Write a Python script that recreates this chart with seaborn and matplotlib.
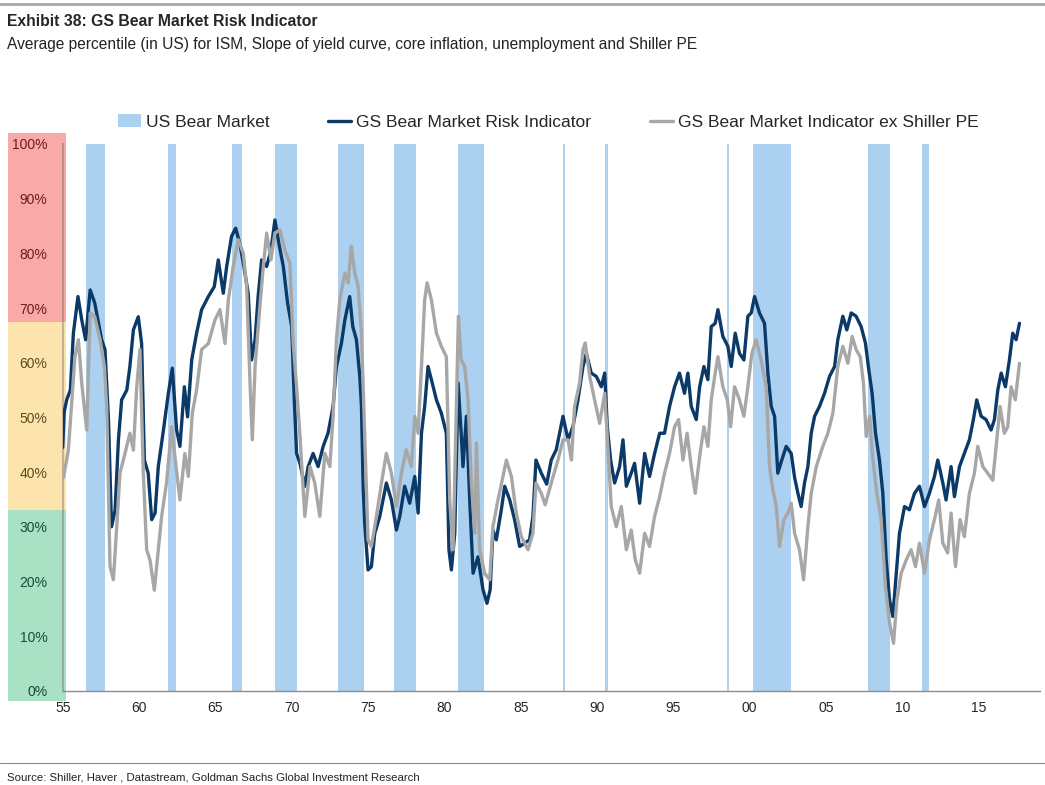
import numpy as np
import pandas as pd
import matplotlib
matplotlib.use('Agg')
import matplotlib.pyplot as plt
import matplotlib.transforms as mtransforms
from matplotlib.patches import Patch, Rectangle
from matplotlib.lines import Line2D
import seaborn as sns

# Data (percentile, %)
navy_year = [1955.00, 1955.10, 1955.26, 1955.50, 1955.70, 1956.00, 1956.25, 1956.50, 1956.80, 1957.10,
             1957.55, 1957.77, 1958.00, 1958.20, 1958.43, 1958.65, 1958.86, 1959.20, 1959.40, 1959.63,
             1959.95, 1960.17, 1960.35, 1960.60, 1960.83, 1961.05, 1961.26, 1961.60, 1961.92, 1962.18,
             1962.46, 1962.68, 1962.97, 1963.18, 1963.45, 1963.77, 1964.10, 1964.54, 1964.93, 1965.19,
             1965.52, 1965.74, 1966.06, 1966.33, 1966.60, 1966.83, 1967.15, 1967.37, 1967.60, 1967.80,
             1968.03, 1968.36, 1968.64, 1968.90, 1969.16, 1969.45, 1969.73, 1970.00, 1970.17, 1970.32,
             1970.54, 1970.86, 1971.08, 1971.40, 1971.73, 1972.06, 1972.38, 1972.71, 1972.93, 1973.26,
             1973.48, 1973.80, 1974.00, 1974.24, 1974.46, 1974.57, 1974.68, 1974.78, 1975.00, 1975.22,
             1975.44, 1975.77, 1976.20, 1976.53, 1976.86, 1977.08, 1977.40, 1977.73, 1978.06, 1978.28,
             1978.50, 1978.71, 1978.93, 1979.15, 1979.48, 1979.80, 1980.13, 1980.30, 1980.46, 1980.68,
             1980.90, 1981.10, 1981.22, 1981.44, 1981.66, 1981.88, 1982.20, 1982.53, 1982.79, 1983.00,
             1983.18, 1983.40, 1983.73, 1983.95, 1984.28, 1984.60, 1984.93, 1985.26, 1985.58, 1985.80,
             1986.00, 1986.35, 1986.70, 1987.00, 1987.33, 1987.55, 1987.77, 1988.10, 1988.42, 1988.75,
             1989.08, 1989.30, 1989.62, 1989.95, 1990.28, 1990.50, 1990.67, 1990.89, 1991.15, 1991.48,
             1991.70, 1991.92, 1992.24, 1992.46, 1992.79, 1993.12, 1993.44, 1993.77, 1994.10, 1994.42,
             1994.75, 1995.08, 1995.40, 1995.73, 1995.95, 1996.17, 1996.50, 1996.72, 1997.00, 1997.26,
             1997.48, 1997.74, 1997.92, 1998.24, 1998.57, 1998.79, 1999.05, 1999.33, 1999.62, 1999.88,
             2000.10, 2000.32, 2000.64, 2000.97, 2001.19, 2001.41, 2001.63, 2001.84, 2002.10, 2002.39,
             2002.72, 2002.94, 2003.16, 2003.37, 2003.59, 2003.81, 2004.03, 2004.25, 2004.57, 2004.90,
             2005.23, 2005.56, 2005.77, 2006.10, 2006.36, 2006.65, 2006.97, 2007.30, 2007.58, 2007.80,
             2008.02, 2008.24, 2008.50, 2008.72, 2008.94, 2009.16, 2009.37, 2009.55, 2009.81, 2010.14,
             2010.46, 2010.79, 2011.12, 2011.45, 2011.77, 2012.10, 2012.32, 2012.65, 2012.86, 2013.19,
             2013.41, 2013.74, 2014.06, 2014.39, 2014.65, 2014.87, 2015.16, 2015.48, 2015.81, 2016.03,
             2016.25, 2016.47, 2016.75, 2017.01, 2017.23, 2017.45, 2017.67]
navy_pct = [44.5, 51.0, 53.2, 55.0, 65.4, 72.1, 67.8, 64.2, 73.3, 70.9,
            64.2, 62.4, 49.5, 30.0, 33.0, 45.9, 53.2, 55.0, 59.3, 66.0,
            68.4, 63.5, 42.2, 39.8, 31.3, 32.5, 41.0, 47.7, 54.4, 59.0,
            47.7, 44.7, 55.6, 50.1, 60.5, 65.4, 69.7, 72.1, 73.9, 78.8,
            72.7, 77.6, 83.1, 84.6, 81.8, 78.2, 72.7, 60.5, 64.2, 72.1,
            78.8, 77.6, 80.6, 86.1, 81.8, 77.6, 70.9, 66.6, 53.2, 43.4,
            41.6, 37.4, 41.0, 43.4, 41.0, 44.7, 47.1, 52.0, 59.3, 63.6,
            67.8, 72.1, 66.6, 64.2, 57.5, 52.0, 37.4, 30.7, 22.1, 22.7,
            28.8, 31.9, 38.0, 34.9, 29.4, 31.9, 37.4, 34.3, 39.2, 32.5,
            47.1, 52.0, 59.3, 56.9, 53.2, 50.8, 47.1, 25.8, 22.1, 28.8,
            56.3, 47.1, 41.0, 50.2, 34.9, 21.5, 24.5, 18.5, 16.0, 18.5,
            29.4, 27.6, 33.1, 37.4, 34.9, 31.3, 26.4, 27.0, 27.6, 31.9,
            42.2, 39.8, 37.8, 42.2, 44.1, 47.1, 50.2, 45.9, 48.3, 53.2,
            59.3, 61.7, 58.1, 57.5, 55.6, 58.1, 48.3, 42.2, 38.0, 41.0,
            45.9, 37.4, 39.8, 41.6, 34.3, 43.4, 39.2, 43.4, 47.1, 47.1,
            52.0, 55.6, 58.1, 54.4, 58.1, 52.0, 49.6, 55.6, 59.3, 56.9,
            66.6, 67.2, 69.7, 64.8, 63.0, 59.3, 65.4, 61.7, 60.5, 68.5,
            69.1, 72.1, 69.1, 67.2, 58.1, 52.0, 50.2, 39.8, 42.2, 44.7,
            43.4, 39.0, 36.1, 33.7, 38.0, 41.0, 47.1, 50.2, 52.0, 54.4,
            57.5, 59.3, 64.2, 68.5, 66.0, 69.1, 68.5, 66.6, 63.6, 58.7,
            54.4, 47.1, 42.2, 36.1, 23.9, 16.6, 13.6, 19.7, 28.8, 33.7,
            33.1, 36.1, 37.4, 33.7, 36.1, 39.2, 42.2, 38.0, 34.9, 41.0,
            35.5, 41.0, 43.4, 45.9, 49.6, 53.2, 50.2, 49.6, 47.7, 49.6,
            55.0, 58.1, 55.6, 60.5, 65.4, 64.2, 67.2]

gray_year = [1955.05, 1955.37, 1955.60, 1955.80, 1956.03, 1956.25, 1956.57, 1956.80, 1957.10, 1957.45,
             1957.73, 1957.88, 1958.10, 1958.32, 1958.54, 1958.75, 1959.08, 1959.40, 1959.63, 1959.85,
             1960.06, 1960.28, 1960.50, 1960.72, 1961.00, 1961.26, 1961.48, 1961.80, 1962.14, 1962.35,
             1962.68, 1963.00, 1963.23, 1963.49, 1963.77, 1964.10, 1964.54, 1964.97, 1965.30, 1965.63,
             1965.85, 1966.17, 1966.50, 1966.83, 1967.05, 1967.27, 1967.42, 1967.60, 1967.86, 1968.14,
             1968.36, 1968.64, 1968.90, 1969.23, 1969.55, 1969.88, 1970.10, 1970.32, 1970.53, 1970.86,
             1971.20, 1971.51, 1971.84, 1972.17, 1972.50, 1972.71, 1972.93, 1973.15, 1973.48, 1973.70,
             1973.90, 1974.13, 1974.35, 1974.57, 1974.78, 1975.00, 1975.22, 1975.55, 1975.88, 1976.20,
             1976.53, 1976.86, 1977.19, 1977.50, 1977.84, 1978.06, 1978.28, 1978.50, 1978.71, 1978.87,
             1979.15, 1979.48, 1979.80, 1980.13, 1980.35, 1980.57, 1980.79, 1980.92, 1981.10, 1981.33,
             1981.55, 1981.77, 1981.99, 1982.10, 1982.31, 1982.64, 1982.97, 1983.18, 1983.51, 1983.84,
             1984.06, 1984.39, 1984.71, 1985.04, 1985.48, 1985.80, 1986.00, 1986.35, 1986.60, 1987.00,
             1987.44, 1987.77, 1988.10, 1988.32, 1988.53, 1988.86, 1989.08, 1989.23, 1989.52, 1989.84,
             1990.17, 1990.50, 1990.72, 1990.93, 1991.26, 1991.59, 1991.92, 1992.24, 1992.50, 1992.79,
             1993.12, 1993.44, 1993.77, 1994.10, 1994.42, 1994.75, 1995.08, 1995.34, 1995.63, 1995.90,
             1996.17, 1996.43, 1996.72, 1997.00, 1997.26, 1997.48, 1997.74, 1997.92, 1998.24, 1998.53,
             1998.75, 1999.01, 1999.33, 1999.62, 1999.88, 2000.14, 2000.42, 2000.75, 2001.08, 2001.30,
             2001.52, 2001.74, 2001.95, 2002.24, 2002.50, 2002.72, 2002.94, 2003.26, 2003.53, 2003.81,
             2004.03, 2004.36, 2004.79, 2005.12, 2005.45, 2005.77, 2006.10, 2006.43, 2006.71, 2006.97,
             2007.24, 2007.45, 2007.63, 2007.85, 2008.07, 2008.33, 2008.61, 2008.89, 2009.16, 2009.42,
             2009.64, 2009.92, 2010.25, 2010.57, 2010.86, 2011.12, 2011.45, 2011.77, 2012.10, 2012.38,
             2012.65, 2012.97, 2013.19, 2013.48, 2013.78, 2014.06, 2014.39, 2014.72, 2014.94, 2015.27,
             2015.59, 2015.92, 2016.14, 2016.40, 2016.68, 2016.90, 2017.12, 2017.40, 2017.67]
gray_pct = [39.0, 44.0, 53.2, 61.1, 64.2, 56.2, 47.7, 69.1, 68.4, 64.2,
            59.3, 52.0, 22.7, 20.3, 30.0, 39.8, 43.4, 47.1, 44.0, 55.6,
            62.4, 39.8, 25.8, 23.9, 18.4, 25.8, 31.9, 38.0, 48.3, 42.8,
            34.9, 43.4, 39.2, 50.8, 55.0, 62.4, 63.5, 67.8, 69.7, 63.5,
            71.5, 77.6, 82.5, 80.0, 73.9, 56.2, 45.9, 59.3, 68.4, 77.6,
            83.7, 78.8, 83.7, 84.3, 80.6, 78.2, 63.5, 55.6, 47.1, 31.9,
            41.0, 38.0, 31.9, 43.4, 41.0, 50.2, 64.2, 71.5, 76.4, 74.6,
            81.3, 76.4, 74.0, 65.4, 47.1, 27.6, 26.4, 31.9, 38.0, 43.4,
            39.8, 33.7, 39.8, 44.1, 41.0, 50.2, 47.1, 59.3, 71.5, 74.6,
            71.5, 65.4, 63.0, 61.1, 34.9, 25.8, 53.2, 68.5, 60.5, 59.3,
            53.2, 38.0, 28.8, 45.3, 25.8, 21.5, 20.3, 30.0, 34.9, 39.2,
            42.2, 39.2, 32.5, 28.2, 25.8, 28.8, 38.0, 36.1, 34.0, 38.0,
            42.2, 45.9, 45.9, 42.2, 52.0, 56.3, 62.4, 63.6, 57.5, 53.2,
            48.9, 54.4, 44.1, 33.7, 30.0, 33.7, 25.8, 29.4, 24.0, 21.5,
            28.8, 26.4, 31.9, 35.5, 39.8, 43.4, 48.3, 49.6, 42.2, 47.1,
            41.0, 36.1, 42.8, 48.3, 44.7, 53.2, 58.1, 61.1, 55.6, 53.2,
            48.3, 55.6, 53.2, 50.2, 55.6, 61.7, 64.2, 60.5, 55.6, 41.0,
            36.7, 33.7, 26.4, 31.3, 32.5, 34.3, 28.8, 25.8, 20.3, 30.0,
            36.1, 41.0, 44.7, 47.1, 50.8, 59.3, 63.0, 59.9, 64.8, 62.4,
            61.1, 56.3, 46.5, 50.2, 42.2, 36.1, 31.3, 19.1, 12.4, 8.7,
            16.6, 21.5, 23.9, 25.8, 22.7, 27.0, 21.5, 27.6, 31.3, 34.9,
            27.0, 25.2, 32.5, 22.7, 31.3, 28.2, 36.1, 39.8, 44.7, 41.0,
            39.8, 38.5, 44.7, 52.0, 47.1, 48.3, 55.6, 53.2, 59.9]

bear_start = [1956.53, 1961.89, 1966.08, 1968.88, 1973.02, 1976.71, 1980.87, 1987.74, 1990.52,
              1998.52, 2000.20, 2007.78, 2011.29]
bear_end = [1957.77, 1962.43, 1966.74, 1970.36, 1974.72, 1978.13, 1982.57, 1987.87, 1990.74,
            1998.62, 2002.73, 2009.17, 2011.77]

NAVY = '#0b3a68'
GRAY = '#a7a7a7'
BEAR = '#acd0ef'

sns.set_style('white')
plt.rcParams['font.family'] = ['Liberation Sans', 'DejaVu Sans']

fig = plt.figure(figsize=(10.45, 7.85), dpi=100)
ax = fig.add_axes([0.060, 0.120, 0.935, 0.6966])

# bear market shading
for s, e in zip(bear_start, bear_end):
    ax.axvspan(s, e, color=BEAR, lw=0, zorder=0)

# risk zones to the left of the axis
trans = mtransforms.blended_transform_factory(ax.transAxes, ax.transData)
for lo, hi, col in [(67.5, 102, '#f8a9a8'), (33, 67.5, '#fde4ac'), (-1.8, 33, '#a8e1c4')]:
    ax.add_patch(Rectangle((-0.056, lo), 0.0593, hi - lo, transform=trans,
                           facecolor=col, edgecolor='none', clip_on=False, zorder=0))

navy = pd.DataFrame({'year': navy_year, 'pct': navy_pct})
gray = pd.DataFrame({'year': gray_year, 'pct': gray_pct})
sns.lineplot(data=navy, x='year', y='pct', ax=ax, color=NAVY, lw=2.4, zorder=3)
sns.lineplot(data=gray, x='year', y='pct', ax=ax, color=GRAY, lw=2.4, zorder=4)

ax.set_xlim(1955, 2019.0)
ax.set_ylim(0, 100)
ax.set_xlabel('')
ax.set_ylabel('')

xt = list(range(1955, 2016, 5))
ax.set_xticks(xt)
ax.set_xticklabels([f'{y % 100:02d}' for y in xt], fontsize=10)
yt = list(range(0, 101, 10))
ax.set_yticks(yt)
ax.set_yticklabels([f'{v}%' for v in yt], fontsize=10)
for v, lab in zip(yt, ax.get_yticklabels()):
    if v >= 70:
        lab.set_color('#6e1d1d')
    elif v >= 40:
        lab.set_color('#5a4a1e')
    else:
        lab.set_color('#1c4a32')

ax.tick_params(axis='x', direction='out', length=4, width=1, color='#8c8c8c', pad=3)
ax.tick_params(axis='y', length=0, pad=11)
for side in ['top', 'right']:
    ax.spines[side].set_visible(False)
ax.spines['bottom'].set_color('#8c8c8c')
ax.spines['bottom'].set_linewidth(1)
ax.spines['left'].set_color((0.35, 0.35, 0.35, 0.35))
ax.spines['left'].set_linewidth(1.5)

handles = [Patch(facecolor=BEAR, edgecolor='none'),
           Line2D([], [], color=NAVY, lw=2.4),
           Line2D([], [], color=GRAY, lw=2.4)]
labels = ['US Bear Market', 'GS Bear Market Risk Indicator', 'GS Bear Market Indicator ex Shiller PE']
fig.legend(handles, labels, loc='center left', bbox_to_anchor=(118 / 1045, 1 - 122 / 785),
           ncol=3, frameon=False, fontsize=12.5, handlelength=1.3, handletextpad=0.3,
           columnspacing=3.4, borderpad=0, borderaxespad=0)

# header / footer
narrow = ['Liberation Sans Narrow', 'Liberation Sans', 'DejaVu Sans']
fig.text(7 / 1045, 1 - 22 / 785, 'Exhibit 38: GS Bear Market Risk Indicator',
         family=narrow, fontsize=11.3, fontweight='bold', va='center', ha='left')
fig.text(7 / 1045, 1 - 44 / 785,
         'Average percentile (in US) for ISM, Slope of yield curve, core inflation, unemployment and Shiller PE',
         family=narrow, fontsize=11.2, va='center', ha='left', color='#222222')
fig.text(7 / 1045, 1 - 778 / 785, 'Source: Shiller, Haver , Datastream, Goldman Sachs Global Investment Research',
         family=narrow, fontsize=8.2, va='center', ha='left', color='#222222')
fig.add_artist(Line2D([0, 1], [1 - 4 / 785] * 2, color='#a6a6a6', lw=2))
fig.add_artist(Line2D([0, 1], [1 - 763 / 785] * 2, color='#8c8c8c', lw=0.8))

fig.savefig('out.png', dpi=100)
